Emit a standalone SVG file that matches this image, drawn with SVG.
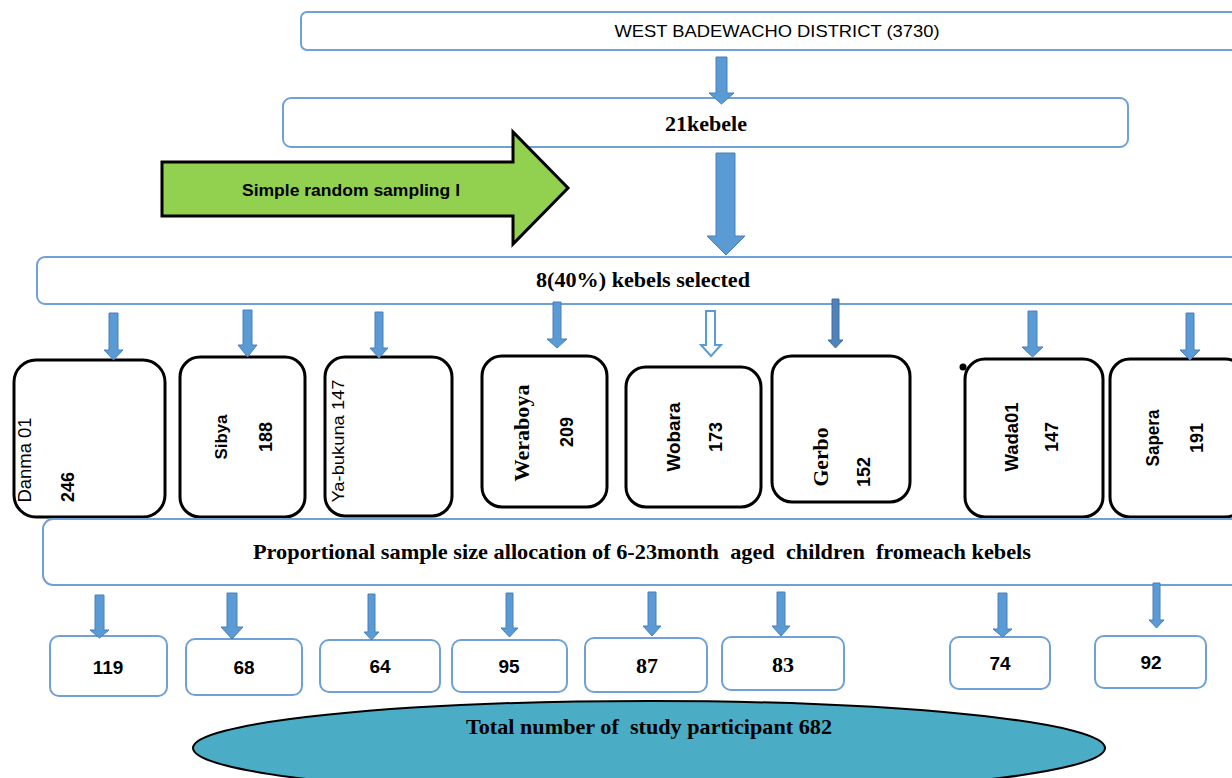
<svg xmlns="http://www.w3.org/2000/svg" width="1232" height="778" viewBox="0 0 1232 778">
<style>
.bx{fill:#fff;stroke:#6fa0d8;stroke-width:2}
.kb{fill:#fff;stroke:#000;stroke-width:3}
.ar{fill:#5b9bd5;stroke:#4a7ebb;stroke-width:1}
.sans{font-family:"Liberation Sans",Arial,sans-serif;fill:#000}
.serif{font-family:"Liberation Serif","Times New Roman",serif;font-weight:bold;fill:#000;white-space:pre}
.b{font-weight:bold}
</style>
<rect width="1232" height="778" fill="#fff"/>

<g id="district">
<rect class="bx" x="301" y="12" width="950" height="38" rx="6"/>
<text class="sans" x="777" y="37" font-size="17" text-anchor="middle" textLength="325" lengthAdjust="spacingAndGlyphs">WEST BADEWACHO DISTRICT (3730)</text>
</g>

<g id="kebele21">
<rect class="bx" x="283" y="98" width="845" height="49" rx="8"/>
<text class="serif" x="706" y="131" font-size="20" text-anchor="middle" textLength="82" lengthAdjust="spacingAndGlyphs">21kebele</text>
</g>

<g id="srs">
<polygon points="162,162 513,162 513,132 568,188 513,244 513,216 162,216" fill="#92d050" stroke="#000" stroke-width="3"/>
<text class="sans b" x="351" y="196" font-size="16" text-anchor="middle" textLength="218" lengthAdjust="spacingAndGlyphs">Simple random sampling l</text>
</g>

<g id="selected">
<rect class="bx" x="37" y="257" width="1210" height="47" rx="8"/>
<text class="serif" x="643" y="287" font-size="20" text-anchor="middle" textLength="214" lengthAdjust="spacingAndGlyphs">8(40%) kebels selected</text>
</g>

<g id="k-danma">
<rect class="kb" x="14" y="360" width="151" height="157" rx="22"/>
<text class="sans" transform="translate(31,460) rotate(-90)" font-size="18" text-anchor="middle" textLength="85" lengthAdjust="spacingAndGlyphs">Danma 01</text>
<text class="sans b" transform="translate(74,487) rotate(-90)" font-size="18" text-anchor="middle">246</text>
</g>
<g id="k-sibya">
<rect class="kb" x="180" y="357" width="125" height="160" rx="20"/>
<text class="sans b" transform="translate(227,437) rotate(-90)" font-size="17" text-anchor="middle" textLength="45" lengthAdjust="spacingAndGlyphs">Sibya</text>
<text class="sans b" transform="translate(272,437) rotate(-90)" font-size="18" text-anchor="middle">188</text>
</g>
<g id="k-yabukuna">
<rect class="kb" x="325" y="357" width="127" height="159" rx="20"/>
<text class="sans" transform="translate(344,441) rotate(-90)" font-size="17" text-anchor="middle" textLength="123" lengthAdjust="spacingAndGlyphs">Ya-bukuna 147</text>
</g>
<g id="k-weraboya">
<rect class="kb" x="482" y="356" width="125" height="151" rx="20"/>
<text class="serif" transform="translate(529,433) rotate(-90)" font-size="22" text-anchor="middle" textLength="97" lengthAdjust="spacingAndGlyphs">Weraboya</text>
<text class="sans b" transform="translate(573,432) rotate(-90)" font-size="18" text-anchor="middle">209</text>
</g>
<g id="k-wobara">
<rect class="kb" x="626" y="367" width="135" height="140" rx="20"/>
<text class="sans b" transform="translate(680,437) rotate(-90)" font-size="18" text-anchor="middle" textLength="69" lengthAdjust="spacingAndGlyphs">Wobara</text>
<text class="sans b" transform="translate(722,437) rotate(-90)" font-size="18" text-anchor="middle">173</text>
</g>
<g id="k-gerbo">
<rect class="kb" x="772" y="356" width="138" height="146" rx="20"/>
<text class="serif" transform="translate(828,457) rotate(-90)" font-size="22" text-anchor="middle" textLength="59" lengthAdjust="spacingAndGlyphs">Gerbo</text>
<text class="sans b" transform="translate(870,472) rotate(-90)" font-size="18" text-anchor="middle">152</text>
</g>
<g id="k-wada">
<rect class="kb" x="965" y="359" width="138" height="158" rx="20"/>
<circle cx="963" cy="367" r="3.5" fill="#000"/>
<text class="sans b" transform="translate(1018,437) rotate(-90)" font-size="18" text-anchor="middle" textLength="69" lengthAdjust="spacingAndGlyphs">Wada01</text>
<text class="sans b" transform="translate(1058,437) rotate(-90)" font-size="18" text-anchor="middle">147</text>
</g>
<g id="k-sapera">
<rect class="kb" x="1110" y="359" width="135" height="158" rx="20"/>
<text class="sans b" transform="translate(1159,438) rotate(-90)" font-size="18" text-anchor="middle" textLength="57" lengthAdjust="spacingAndGlyphs">Sapera</text>
<text class="sans b" transform="translate(1203,438) rotate(-90)" font-size="18" text-anchor="middle">191</text>
</g>

<g id="proportional">
<rect class="bx" x="43" y="519" width="1200" height="66" rx="10"/>
<text class="serif" x="642" y="559" font-size="21" text-anchor="middle" textLength="778" lengthAdjust="spacingAndGlyphs" xml:space="preserve">Proportional sample size allocation of 6-23month  aged  children  fromeach kebels</text>
</g>

<g id="n119"><rect class="bx" x="50" y="636" width="117" height="60" rx="9"/><text class="sans b" x="108" y="674" font-size="19" text-anchor="middle">119</text></g>
<g id="n68"><rect class="bx" x="186" y="639" width="116" height="56" rx="9"/><text class="sans b" x="244" y="674" font-size="19" text-anchor="middle">68</text></g>
<g id="n64"><rect class="bx" x="320" y="640" width="120" height="52" rx="9"/><text class="sans b" x="380" y="673" font-size="19" text-anchor="middle">64</text></g>
<g id="n95"><rect class="bx" x="452" y="640" width="115" height="52" rx="9"/><text class="sans b" x="509" y="673" font-size="19" text-anchor="middle">95</text></g>
<g id="n87"><rect class="bx" x="585" y="638" width="122" height="54" rx="9"/><text class="serif" x="647" y="673" font-size="22" text-anchor="middle">87</text></g>
<g id="n83"><rect class="bx" x="722" y="637" width="122" height="53" rx="9"/><text class="serif" x="783" y="672" font-size="22" text-anchor="middle">83</text></g>
<g id="n74"><rect class="bx" x="950" y="637" width="100" height="52" rx="9"/><text class="sans b" x="1000" y="670" font-size="19" text-anchor="middle">74</text></g>
<g id="n92"><rect class="bx" x="1095" y="636" width="111" height="52" rx="9"/><text class="sans b" x="1151" y="669" font-size="19" text-anchor="middle">92</text></g>

<g id="total">
<ellipse cx="649" cy="748" rx="456" ry="47" fill="#4bacc6" stroke="#000" stroke-width="2"/>
<text class="serif" x="649" y="734" font-size="22" text-anchor="middle" textLength="366" lengthAdjust="spacingAndGlyphs" xml:space="preserve">Total number of  study participant 682</text>
</g>

<g id="connectors">
<polygon class="ar" points="716,57 727,57 727,93 734,93 721.5,104 709,93 716,93"/>
<polygon class="ar" points="716,153 735,153 735,236 745,236 726,255 707,236 716,236"/>
<polygon class="ar" points="109,313 118,313 118,350 123,350 113.5,360 104,350 109,350"/>
<polygon class="ar" points="243,310 252,310 252,345 257,345 247.5,357 238,345 243,345"/>
<polygon class="ar" points="375,312 383,312 383,348 388,348 379,358 370,348 375,348"/>
<polygon class="ar" points="553,302 561,302 561,339 567,339 557,348 547,339 553,339"/>
<polygon points="706,311 715,311 715,345 721,345 711,356 701,345 706,345" fill="#fff" stroke="#5b9bd5" stroke-width="2"/>
<polygon points="832,299 839,299 839,340 843,340 835.5,348 828,340 832,340" fill="#4f81bd" stroke="#41719c" stroke-width="1"/>
<polygon class="ar" points="1028,311 1037,311 1037,347 1043,347 1032.5,357 1022,347 1028,347"/>
<polygon class="ar" points="1186,313 1194,313 1194,350 1200,350 1190,360 1180,350 1186,350"/>

<polygon class="ar" points="95,595 104,595 104,630 109,630 99.5,638 90,630 95,630"/>
<polygon class="ar" points="227,593 237,593 237,627 243,627 232,639 221,627 227,627"/>
<polygon class="ar" points="368,594 375,594 375,632 379,632 371.5,640 364,632 368,632"/>
<polygon class="ar" points="506,593 513,593 513,628 518,628 509.5,637 501,628 506,628"/>
<polygon class="ar" points="648,592 656,592 656,626 661,626 652,636 643,626 648,626"/>
<polygon class="ar" points="777,592 785,592 785,626 790,626 781,636 772,626 777,626"/>
<polygon class="ar" points="998,593 1007,593 1007,629 1012,629 1002.5,637 993,629 998,629"/>
<polygon class="ar" points="1153,583 1160,583 1160,620 1164,620 1156.5,628 1149,620 1153,620"/>
</g>
</svg>
